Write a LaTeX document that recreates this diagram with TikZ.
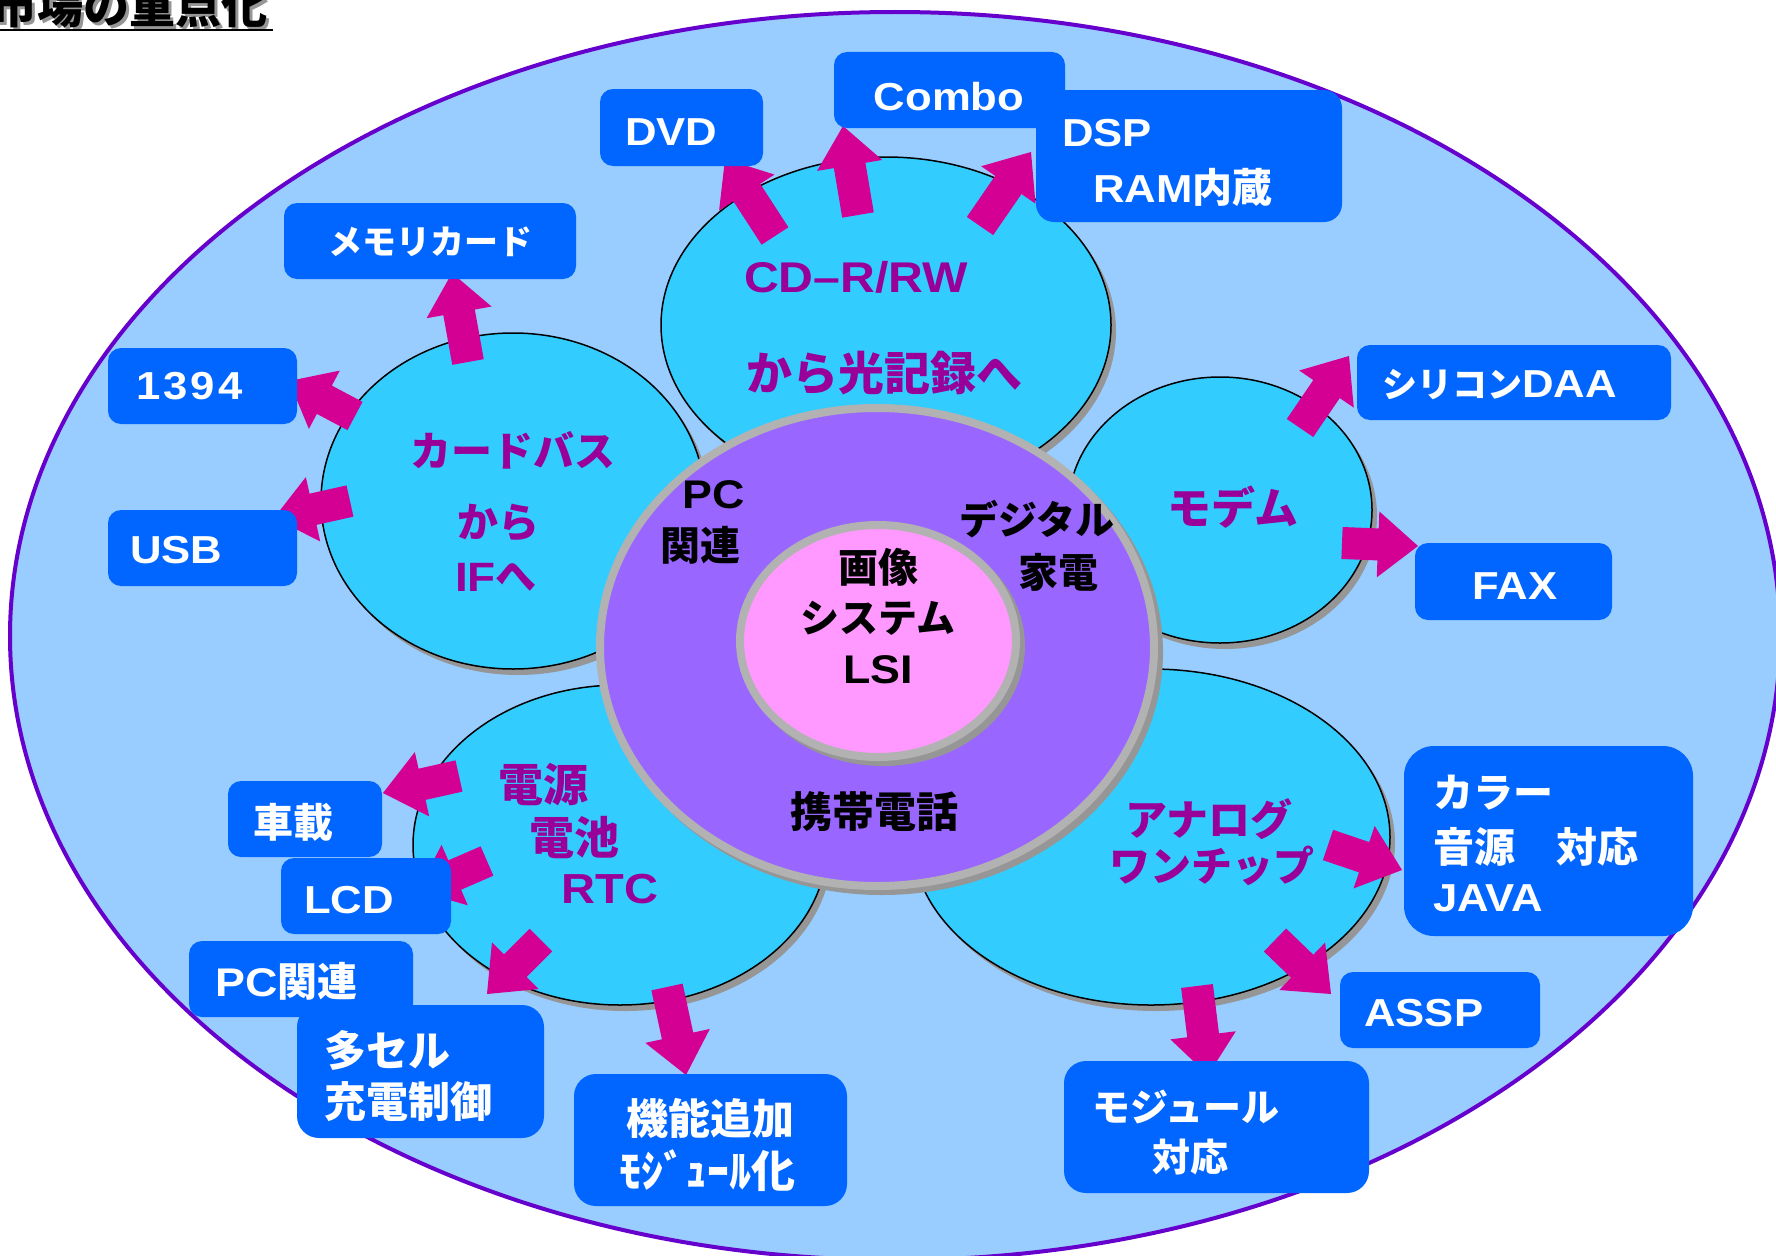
\documentclass[tikz,border=0pt]{standalone}
\usepackage{fontspec}
\setmainfont{Noto Sans CJK JP}
\newfontfamily\LatF{Liberation Sans}[FakeStretch=1.12]
\usetikzlibrary{shapes.geometric,calc}
\definecolor{bgblue}{HTML}{99CCFF}
\definecolor{outl}{HTML}{6600CC}
\definecolor{satcyan}{HTML}{33CCFF}
\definecolor{ringpurple}{HTML}{9966FF}
\definecolor{corepink}{HTML}{FF99FF}
\definecolor{ringgray}{HTML}{B2B2B2}
\definecolor{shadowgray}{HTML}{969696}
\definecolor{boxblue}{HTML}{0066FF}
\definecolor{magtext}{HTML}{990099}
\definecolor{arrowmag}{HTML}{D40093}
\newcommand\Lt[1]{{\LatF #1}}
\newcommand\fs[1]{\fontsize{#1}{#1}\selectfont}
\newcommand\blockarrow[3]{%
  \coordinate (#1hb) at ($(#3)!40pt!(#2)$);
  \fill[arrowmag] ($(#2)!16pt!90:(#3)$) -- ($(#1hb)!16pt!90:(#3)$) -- ($(#1hb)!33pt!90:(#3)$) -- (#3)
     -- ($(#1hb)!33pt!-90:(#3)$) -- ($(#1hb)!16pt!-90:(#3)$) -- ($(#2)!16pt!-90:(#3)$) -- cycle;}
\tikzset{
  sat/.style={ellipse, draw=black, line width=1.5pt, fill=satcyan, inner sep=0pt, outer sep=0pt,
    preaction={fill=shadowgray, transform canvas={xshift=5pt,yshift=-6pt}}},
  ringsh/.style={ellipse, draw=ringgray, line width=8pt, inner sep=0pt, outer sep=0pt,
    preaction={draw=shadowgray, fill=shadowgray, line width=8pt, transform canvas={xshift=5pt,yshift=-5pt}}},
  bbox/.style={rectangle, rounded corners=13pt, fill=boxblue, inner sep=0pt, outer sep=0pt},
  wtxt/.style={text=white, font=\bfseries\fs{40}, inner sep=0pt},
  mtxt/.style={text=magtext, font=\bfseries\fs{42}, inner sep=0pt},
  ktxt/.style={text=black, font=\bfseries\fs{40}, inner sep=0pt},
}
\begin{document}
\begin{tikzpicture}[x=1pt,y=-1pt]
\useasboundingbox (0,0) rectangle (1776,1255);
\clip (0,0) rectangle (1776,1255);
\fill[white] (0,0) rectangle (1776,1255);
% title
\node[anchor=base east, text=shadowgray, font=\bfseries\fs{46}, inner sep=0pt] (titlesh) at (271,27) {市場の重点化};
\node[anchor=base east, text=black, font=\bfseries\fs{46}, inner sep=0pt] (title) at (268,24) {市場の重点化};
\draw[line width=2.5pt] (0,30) -- (273,30);
% field
\node[ellipse, draw=outl, line width=4pt, fill=bgblue, inner sep=0pt, outer sep=0pt,
      minimum width=1770pt, minimum height=1248pt] (field) at (895,636) {};
% satellites
\node[sat, minimum width=450pt, minimum height=336pt] (cd) at (886,325) {};
\node[sat, minimum width=384pt, minimum height=336pt] (card) at (513,501) {};
\node[sat, minimum width=304pt, minimum height=266pt] (modem) at (1220,510) {};
\node[sat, minimum width=414pt, minimum height=320pt] (power) at (620,845) {};
\node[sat, minimum width=478pt, minimum height=336pt] (analog) at (1151,837) {};
% central ring
\node[ringsh, fill=ringpurple, minimum width=554pt, minimum height=478pt] (ring) at (877,647) {};
\node[ringsh, fill=corepink, minimum width=276pt, minimum height=232pt] (core) at (878,641) {};
% center texts
\node[ktxt] (t1) at (878,567) {画像};
\node[ktxt, font=\bfseries\fs{39}] (t2) at (878,618) {システム};
\node[ktxt] (t3) at (878,670) {\Lt{LSI}};
\node[ktxt] (t4) at (714,495) {\Lt{PC}};
\node[ktxt] (t5) at (700,545) {関連};
\node[ktxt, font=\bfseries\fs{39}] (t6) at (1037,519) {デジタル};
\node[ktxt] (t7) at (1058,572) {家電};
\node[ktxt, font=\bfseries\fs{42}] (t8) at (874,812) {携帯電話};
% magenta texts
\node[mtxt, anchor=west, font=\bfseries\fs{43}] (m1) at (744,277) {\Lt{CD–R/RW}};
\node[mtxt, anchor=west, font=\bfseries\fs{46}] (m2) at (746,373) {から光記録へ};
\node[mtxt, font=\bfseries\fs{41}] (m3) at (513,450) {カードバス};
\node[mtxt, font=\bfseries\fs{41}] (m4) at (498,523) {から};
\node[mtxt, font=\bfseries\fs{41}] (m5) at (496,577) {\Lt{IF}へ};
\node[mtxt, font=\bfseries\fs{44}] (m6) at (1233,507) {モデム};
\node[mtxt, font=\bfseries\fs{45}] (m7) at (543,785) {電源};
\node[mtxt, font=\bfseries\fs{45}] (m8) at (574,838) {電池};
\node[mtxt] (m9) at (610,889) {\Lt{RTC}};
\node[mtxt] (m10) at (1209,819) {アナログ};
\node[mtxt, font=\bfseries\fs{41}] (m11) at (1212,866) {ワンチップ};
% arrow end points
\coordinate (memT) at (468,362);   \coordinate (memH) at (452,273);
\coordinate (ieeT) at (355,416);   \coordinate (ieeH) at (289,381);
\coordinate (usbT) at (350,501);   \coordinate (usbH) at (274,518);
\coordinate (dvdT) at (775,236);   \coordinate (dvdH) at (725,159);
\coordinate (cmbT) at (858,215);   \coordinate (cmbH) at (843,126);
\coordinate (dspT) at (980,226);   \coordinate (dspH) at (1031,152);
\coordinate (silT) at (1300,428);  \coordinate (silH) at (1349,356);
\coordinate (faxT) at (1342,543);  \coordinate (faxH) at (1418,546);
\coordinate (colT) at (1328,845);  \coordinate (colH) at (1402,870);
\coordinate (asspT) at (1275,940); \coordinate (asspH) at (1331,994);
\coordinate (modT) at (1197,986);  \coordinate (modH) at (1208,1075);
\coordinate (kinoT) at (667,987);  \coordinate (kinoH) at (686,1075);
\coordinate (tasT) at (541,940);   \coordinate (tasH) at (487,994);
\coordinate (lcdT) at (487,861);   \coordinate (lcdH) at (418,891);
\coordinate (shaT) at (459,776);   \coordinate (shaH) at (383,793);
\blockarrow{a1}{memT}{memH}
\blockarrow{a2}{ieeT}{ieeH}
\blockarrow{a3}{usbT}{usbH}
\blockarrow{a4}{dvdT}{dvdH}
\blockarrow{a5}{cmbT}{cmbH}
\blockarrow{a6}{dspT}{dspH}
\blockarrow{a7}{silT}{silH}
\blockarrow{a8}{faxT}{faxH}
\blockarrow{a9}{colT}{colH}
\blockarrow{a10}{asspT}{asspH}
\blockarrow{a11}{modT}{modH}
\blockarrow{a12}{kinoT}{kinoH}
\blockarrow{a13}{tasT}{tasH}
\blockarrow{a14}{lcdT}{lcdH}
\blockarrow{a15}{shaT}{shaH}
% boxes
\node[bbox, minimum width=292pt, minimum height=76pt] (mem) at (430,241) {};
\node[wtxt, font=\bfseries\fs{34}] (memL) at (430,242) {メモリカード};
\node[bbox, minimum width=189pt, minimum height=76pt] (iee) at (202.5,386) {};
\node[wtxt, anchor=west, font=\bfseries\fs{39}] (ieeL) at (136,386) {{\LatF\addfontfeature{LetterSpace=8}1394}};
\node[bbox, minimum width=189pt, minimum height=76pt] (usb) at (202.5,548) {};
\node[wtxt, anchor=west, font=\bfseries\fs{39}] (usbL) at (130,550) {\Lt{USB}};
\node[bbox, minimum width=163pt, minimum height=77pt] (dvd) at (681.5,127.5) {};
\node[wtxt, anchor=west, font=\bfseries\fs{39}] (dvdL) at (625,132) {\Lt{DVD}};
\node[bbox, minimum width=231pt, minimum height=76pt] (cmb) at (949.5,90) {};
\node[wtxt, font=\bfseries\fs{39}] (cmbL) at (949,97) {\Lt{Combo}};
\node[bbox, rounded corners=18pt, minimum width=306pt, minimum height=132pt] (dsp) at (1189,156) {};
\node[wtxt, anchor=west, font=\bfseries\fs{39}] (dspL1) at (1062,133) {\Lt{DSP}};
\node[wtxt, anchor=west, font=\bfseries\fs{39}] (dspL2) at (1093,187) {\Lt{RAM}\fs{40}内蔵};
\node[bbox, minimum width=314pt, minimum height=75pt] (sil) at (1514,382.5) {};
\node[wtxt, anchor=west, font=\bfseries\fs{39}] (silL) at (1382,385) {{\fs{35}シリコン}\Lt{DAA}};
\node[bbox, minimum width=197pt, minimum height=77pt] (fax) at (1513.5,581.5) {};
\node[wtxt, font=\bfseries\fs{39}] (faxL) at (1515,586) {\Lt{FAX}};
\node[bbox, rounded corners=30pt, minimum width=289pt, minimum height=190pt] (col) at (1548.5,841) {};
\node[wtxt, anchor=west] (colL1) at (1433,793) {カラー};
\node[wtxt, anchor=west, font=\bfseries\fs{41}] (colL2) at (1433,847) {音源　対応};
\node[wtxt, anchor=west, font=\bfseries\fs{39}] (colL3) at (1433,898) {\Lt{JAVA}};
\node[bbox, minimum width=200pt, minimum height=76pt] (assp) at (1440,1010) {};
\node[wtxt, anchor=west, font=\bfseries\fs{39}] (asspL) at (1364,1013) {\Lt{ASSP}};
\node[bbox, rounded corners=22pt, minimum width=305pt, minimum height=132pt] (mod) at (1216.5,1127) {};
\node[wtxt, anchor=west, font=\bfseries\fs{38}] (modL1) at (1092,1107) {モジュール};
\node[wtxt, font=\bfseries\fs{38}] (modL2) at (1190,1157) {対応};
\node[bbox, rounded corners=22pt, minimum width=273pt, minimum height=132pt] (kino) at (710.5,1140) {};
\node[wtxt, font=\bfseries\fs{42}] (kinoL1) at (710,1118) {機能追加};
\node[wtxt, font=\bfseries\fs{44}] (kinoL2) at (707,1171) {ﾓｼﾞｭｰﾙ化};
\node[bbox, minimum width=154pt, minimum height=76pt] (sha) at (305,819) {};
\node[wtxt] (shaL) at (293,822) {車載};
\node[bbox, minimum width=170pt, minimum height=76pt] (lcd) at (366,896) {};
\node[wtxt, anchor=west, font=\bfseries\fs{39}] (lcdL) at (304,900) {\Lt{LCD}};
\node[bbox, minimum width=224pt, minimum height=76pt] (pcr) at (301,979) {};
\node[wtxt, anchor=west] (pcrL) at (215,981) {\Lt{PC}関連};
\node[bbox, rounded corners=22pt, minimum width=247pt, minimum height=133pt] (tas) at (420.5,1071.5) {};
\node[wtxt, anchor=west, font=\bfseries\fs{42}] (tasL1) at (324,1050) {多セル};
\node[wtxt, anchor=west, font=\bfseries\fs{42}] (tasL2) at (324,1102) {充電制御};
\end{tikzpicture}
\end{document}
